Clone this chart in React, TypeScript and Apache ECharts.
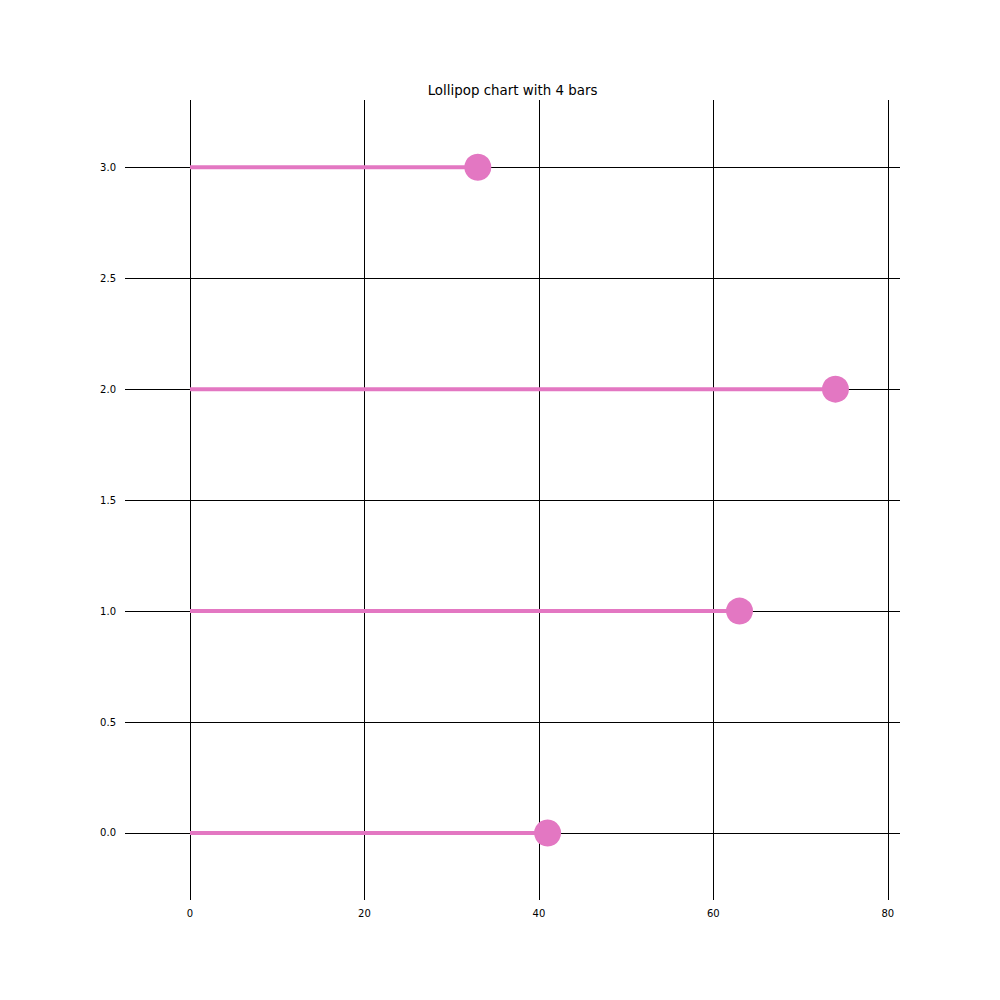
import React, { useEffect, useRef } from "react";
import * as echarts from "echarts";

const title = "Lollipop chart with 4 bars";
const positions = [0, 1, 2, 3];
const values = [41, 63, 74, 33];
const xTicks = [0, 20, 40, 60, 80];
const yTicks = [0, 0.5, 1, 1.5, 2, 2.5, 3];
const color = "#e377c2";

export default function App() {
  const ref = useRef<HTMLDivElement>(null);
  useEffect(() => {
    document.body.style.margin = "0";
    const chart = echarts.init(ref.current!, null, { renderer: "svg" });
    const font = "DejaVu Sans";
    const stems = positions.map((p, i) => ({
      type: "line",
      data: [
        [0, p],
        [values[i], p],
      ],
      showSymbol: false,
      symbol: "none",
      lineStyle: { color, width: 4 },
      z: 10,
      silent: true,
    }));
    chart.setOption({
      animation: false,
      title: {
        text: title,
        left: 507.5,
        top: 79,
        textAlign: "center",
        textStyle: { fontFamily: font, fontSize: 13.4, fontWeight: "normal", color: "#000" },
      },
      grid: { left: 125, right: 100, top: 100, bottom: 100, containLabel: false },
      xAxis: {
        type: "value",
        min: -7.45,
        max: 81.4,
        axisLine: { show: false },
        axisTick: { show: false },
        splitLine: { show: false },
        axisLabel: {
          customValues: xTicks,
          formatter: (v: number) => String(v),
          fontFamily: font,
          fontSize: 10,
          color: "#000",
          margin: 8,
        },
      },
      yAxis: {
        type: "value",
        min: -0.302,
        max: 3.303,
        axisLine: { show: false },
        axisTick: { show: false },
        splitLine: { show: false },
        axisLabel: {
          customValues: yTicks,
          formatter: (v: number) => v.toFixed(1),
          fontFamily: font,
          fontSize: 10,
          color: "#000",
          margin: 9,
        },
      },
      series: [
        {
          type: "line",
          data: [],
          z: 1,
          silent: true,
          markLine: {
            z: 1,
            silent: true,
            symbol: "none",
            label: { show: false },
            lineStyle: { color: "#000", width: 1, type: "solid" },
            data: [
              ...xTicks.map((v) => ({ xAxis: v })),
              ...yTicks.map((v) => ({ yAxis: v })),
            ],
          },
        },
        ...stems,
        {
          type: "scatter",
          data: positions.map((p, i) => [values[i], p]),
          symbol: "circle",
          symbolSize: 27,
          itemStyle: { color, opacity: 1 },
          z: 20,
          silent: true,
        },
      ],
    });
    return () => chart.dispose();
  }, []);
  return <div ref={ref} style={{ width: 1000, height: 1000 }} />;
}
